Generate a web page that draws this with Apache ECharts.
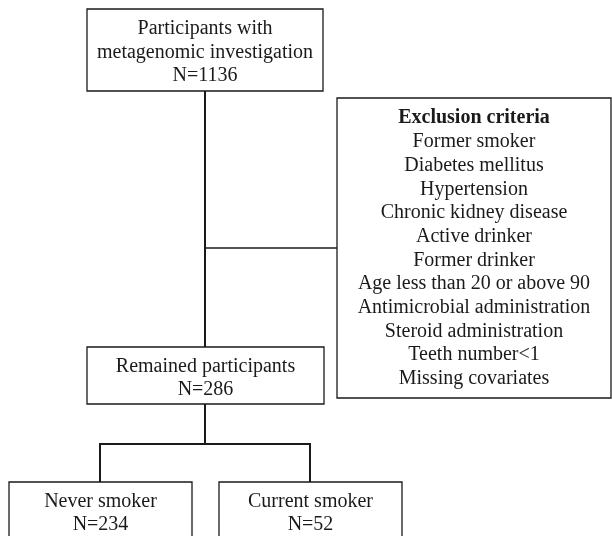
<!DOCTYPE html>
<html>
<head>
<meta charset="utf-8">
<script src="https://cdn.jsdelivr.net/npm/echarts@6/dist/echarts.min.js"></script>
<style>
  html, body { margin: 0; padding: 0; background: #fff; }
  #chart { width: 612px; height: 536px; }
</style>
</head>
<body>
<div id="chart"></div>
<script>
// flow chart content
const boxTitles = ['Participants with\nmetagenomic investigation', 'Remained participants', 'Never smoker', 'Current smoker'];
const boxCounts = [1136, 286, 234, 52];
const exclusionTitle = 'Exclusion criteria';
const exclusionCriteria = [
  'Former smoker',
  'Diabetes mellitus',
  'Hypertension',
  'Chronic kidney disease',
  'Active drinker',
  'Former drinker',
  'Age less than 20 or above 90',
  'Antimicrobial administration',
  'Steroid administration',
  'Teeth number<1',
  'Missing covariates'
];

// layout, in axis units (x: 0..612, y: 0..536 top-down)
const boxLayout = [
  { x0: 87, y0: 9, x1: 323, y1: 91, ty: 52.5 },
  { x0: 87, y0: 347, x1: 324, y1: 404, ty: 378 },
  { x0: 9, y0: 482, x1: 192, y1: 560, ty: 513 },
  { x0: 219, y0: 482, x1: 402, y1: 560, ty: 513 }
];
const exclusionLayout = { x0: 337, y0: 98, x1: 611, y1: 398, ty: 248.5 };
const connectors = [
  { coords: [[205, 91], [205, 347]], w: 2 },
  { coords: [[205, 248], [337, 248]], w: 1.5 },
  { coords: [[205, 404], [205, 444]], w: 2 },
  { coords: [[100, 482], [100, 444], [310, 444], [310, 482]], w: 2 }
];

const FONT = '"Liberation Serif", "Times New Roman", serif';
const INK = '#1a1a1a';

const boxData = boxTitles.map((t, i) => ({
  value: [boxLayout[i].x0, boxLayout[i].y0, boxLayout[i].x1, boxLayout[i].y1, boxLayout[i].ty],
  text: t + '\nN=' + boxCounts[i]
}));
boxData.push({
  value: [exclusionLayout.x0, exclusionLayout.y0, exclusionLayout.x1, exclusionLayout.y1, exclusionLayout.ty],
  text: '{b|' + exclusionTitle + '}\n' + exclusionCriteria.join('\n'),
  lh: 23.7
});

const renderBox = (params, api) => {
  const d = boxData[params.dataIndex];
  const p0 = api.coord([api.value(0), api.value(1)]);
  const p1 = api.coord([api.value(2), api.value(3)]);
  const tc = api.coord([(api.value(0) + api.value(2)) / 2, api.value(4)]);
  return {
    type: 'group',
    children: [
      {
        type: 'rect',
        shape: { x: p0[0], y: p0[1], width: p1[0] - p0[0], height: p1[1] - p0[1] },
        style: { fill: '#fff', stroke: INK, lineWidth: 1.3 }
      },
      {
        type: 'text',
        x: tc[0],
        y: tc[1],
        style: {
          text: d.text,
          fill: INK,
          font: '20px ' + FONT,
          lineHeight: d.lh || 23.5,
          align: 'center',
          verticalAlign: 'middle',
          rich: {
            b: { fontWeight: 'bold', fontSize: 20, fontFamily: FONT, lineHeight: d.lh || 23.5 }
          }
        }
      }
    ]
  };
};

const chart = echarts.init(document.getElementById('chart'), null, { renderer: 'canvas' });
chart.setOption({
  animation: false,
  backgroundColor: '#fff',
  grid: { left: 0, right: 0, top: 0, bottom: 0 },
  xAxis: { type: 'value', min: 0, max: 612, show: false },
  yAxis: { type: 'value', min: 0, max: 536, inverse: true, show: false },
  series: [
    {
      type: 'lines',
      coordinateSystem: 'cartesian2d',
      polyline: true,
      silent: true,
      z: 1,
      data: connectors.map(c => ({ coords: c.coords, lineStyle: { width: c.w } })),
      lineStyle: { color: INK, opacity: 1 }
    },
    {
      type: 'custom',
      coordinateSystem: 'cartesian2d',
      clip: false,
      z: 2,
      renderItem: renderBox,
      data: boxData.map(d => d.value)
    }
  ]
});
</script>
</body>
</html>
